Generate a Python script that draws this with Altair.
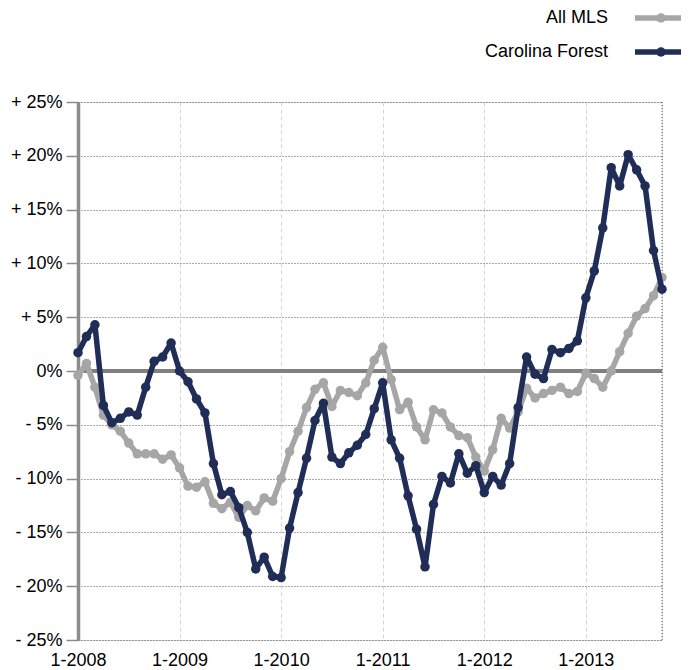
import altair as alt
import pandas as pd

# ---- data ----
years = [2008, 2009, 2010, 2011, 2012, 2013]
month_labels = [f"{m}-{y}" for y in years for m in range(1, 13)][:70]  # 1-2008 .. 10-2013
tick_labels = ["1-2008", "1-2009", "1-2010", "1-2011", "1-2012", "1-2013"]

series_names = ["All MLS", "Carolina Forest"]
series_colors = ["#a6a6a6", "#1f2d57"]

all_mls = [
    -0.4, 0.7, -1.5, -4.1, -5.0, -5.6, -6.7, -7.7, -7.7, -7.7, -8.2, -7.8,
    -9.0, -10.7, -10.8, -10.3, -12.3, -12.8, -12.2, -13.6, -12.5, -13.0, -11.8, -12.1,
    -10.0, -7.5, -5.6, -3.4, -1.7, -1.1, -3.3, -1.8, -2.0, -2.3, -1.1, 1.0,
    2.2, -0.8, -3.6, -2.9, -5.2, -6.4, -3.6, -3.9, -5.2, -6.0, -6.2, -8.0,
    -9.3, -7.3, -4.4, -5.3, -3.8, -1.6, -2.5, -2.1, -1.8, -1.5, -2.1, -1.9,
    -0.2, -0.7, -1.5, 0.0, 1.8, 3.5, 5.1, 5.8, 7.0, 8.7,
]
carolina_forest = [
    1.7, 3.2, 4.3, -3.2, -4.8, -4.4, -3.8, -4.1, -1.5, 0.9, 1.3, 2.6,
    0.0, -1.0, -2.6, -3.9, -8.6, -11.5, -11.2, -12.7, -15.0, -18.4, -17.3, -19.1,
    -19.2, -14.6, -11.3, -8.1, -4.6, -3.0, -8.0, -8.6, -7.6, -6.9, -5.9, -3.5,
    -1.1, -6.4, -8.1, -11.6, -14.7, -18.2, -12.4, -9.8, -10.4, -7.7, -9.5, -8.8,
    -11.3, -9.8, -10.6, -8.6, -3.4, 1.3, -0.3, -0.7, 2.0, 1.7, 2.1, 2.8,
    6.8, 9.3, 13.3, 18.9, 17.2, 20.1, 18.7, 17.2, 11.2, 7.6,
]

y_ticks = [-25, -20, -15, -10, -5, 0, 5, 10, 15, 20, 25]

df = pd.DataFrame({
    "month": month_labels * 2,
    "value": all_mls + carolina_forest,
    "series": [series_names[0]] * len(all_mls) + [series_names[1]] * len(carolina_forest),
})

W, H = 584, 538
FONT = "Liberation Sans"

x_enc = alt.X(
    "month:O",
    sort=month_labels,
    scale=alt.Scale(type="point", padding=0, domain=month_labels),
    axis=alt.Axis(
        values=tick_labels, labelAngle=0, title=None, ticks=False, domain=False,
        labelFontSize=18, labelFont=FONT, labelColor="#000000", labelPadding=11,
        grid=True, gridColor="#d4d4d4", gridDash=[4, 3], gridWidth=1,
    ),
)
y_enc = alt.Y(
    "value:Q",
    scale=alt.Scale(domain=[-25, 25], nice=False, zero=False),
    axis=alt.Axis(
        values=y_ticks, title=None,
        labelExpr="datum.value > 0 ? '+ ' + datum.value + '%' : (datum.value < 0 ? '- ' + abs(datum.value) + '%' : '0%')",
        labelFontSize=18, labelFont=FONT, labelColor="#000000", labelPadding=4,
        tickSize=12, tickColor="#8c8c8c", tickWidth=1.5,
        domainColor="#8c8c8c", domainWidth=3.5,
        grid=True, gridColor="#555555", gridDash=[1, 2], gridWidth=1,
    ),
)

base = alt.Chart(df)

def series_layer(name, color):
    return base.transform_filter(alt.datum.series == name).mark_line(
        color=color, strokeWidth=5.5, strokeJoin="round",
        point=alt.OverlayMarkDef(filled=True, size=90, color=color, opacity=1),
    ).encode(x=x_enc, y=y_enc)

zero_df = pd.DataFrame({"z": [0]})
zero_line = alt.Chart(zero_df).mark_rule(color="#808080", strokeWidth=4).encode(
    y=alt.Y("z:Q", scale=alt.Scale(domain=[-25, 25], nice=False))
)
right_border = alt.Chart(zero_df).mark_rule(color="#555555", strokeDash=[1, 2], strokeWidth=1).encode(
    x=alt.value(W), y=alt.value(0), y2=alt.value(H)
)

legend_layers = []
for i, (name, color) in enumerate(zip(series_names, series_colors)):
    ly = -84 + 34 * i
    ldf = pd.DataFrame({"label": [name]})
    legend_layers.append(
        alt.Chart(ldf).mark_text(align="right", baseline="middle", fontSize=18, font=FONT, color="#000000").encode(
            x=alt.value(530), y=alt.value(ly), text="label:N"
        )
    )
    legend_layers.append(
        alt.Chart(ldf).mark_rule(color=color, strokeWidth=5.5).encode(
            x=alt.value(557), x2=alt.value(612), y=alt.value(ly)
        )
    )
    legend_layers.append(
        alt.Chart(ldf).mark_point(filled=True, size=90, color=color, opacity=1).encode(
            x=alt.value(583), y=alt.value(ly)
        )
    )

chart = alt.layer(
    zero_line,
    right_border,
    series_layer(series_names[0], series_colors[0]),
    series_layer(series_names[1], series_colors[1]),
    *legend_layers,
).properties(
    width=W, height=H,
    autosize=alt.AutoSizeParams(type="none"),
    padding={"left": 70, "top": 94, "right": 19, "bottom": 30},
).configure_view(stroke=None).configure(background="#ffffff")

chart.save("out.html", embed_options={"renderer": "svg", "actions": False})
